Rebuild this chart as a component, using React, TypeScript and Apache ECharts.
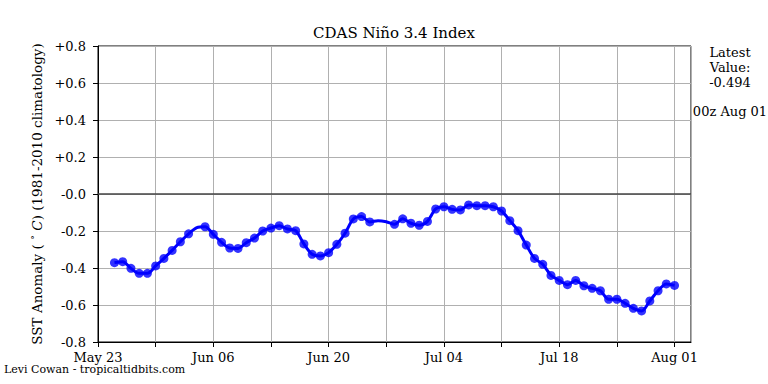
import React, { useEffect, useRef } from "react";
import * as echarts from "echarts";

// Days counted from May 23 (00z). First observation is May 25.
const startDay = 2;
const xTickLabels = ["May 23", "Jun 06", "Jun 20", "Jul 04", "Jul 18", "Aug 01"];
const yTicks = [-0.8, -0.6, -0.4, -0.2, 0, 0.2, 0.4, 0.6, 0.8];

// Daily Niño 3.4 SST anomaly (°C), May 25 .. Aug 01
const sstAnomaly = [
  -0.371, -0.366, -0.402, -0.429, -0.429, -0.389, -0.348, -0.305, -0.258, -0.215,
  -0.182, -0.177, -0.218, -0.261, -0.292, -0.294, -0.263, -0.238, -0.2, -0.184,
  -0.171, -0.189, -0.198, -0.27, -0.326, -0.335, -0.317, -0.272, -0.212, -0.135,
  -0.122, -0.151, -0.144, -0.15, -0.164, -0.134, -0.158, -0.169, -0.148, -0.081,
  -0.069, -0.083, -0.086, -0.059, -0.063, -0.063, -0.069, -0.092, -0.144, -0.198,
  -0.276, -0.348, -0.38, -0.44, -0.467, -0.49, -0.467, -0.496, -0.51, -0.523,
  -0.569, -0.569, -0.591, -0.618, -0.632, -0.578, -0.523, -0.486, -0.494,
];
// Days drawn only as line (no marker)
const missingIdx = [10, 32, 33];

const latestValue = "-0.494";
const latestTime = "00z Aug 01";

const FONT = "DejaVu Serif";

export default function App() {
  const ref = useRef<HTMLDivElement>(null);
  useEffect(() => {
    if (!ref.current) return;
    const chart = echarts.init(ref.current, null, { renderer: "svg" });
    const lineData = sstAnomaly.map((v, i) => [startDay + i, v]);
    const markerData = sstAnomaly
      .map((v, i) => (missingIdx.includes(i) ? null : [startDay + i, v]))
      .filter((d) => d !== null);
    chart.setOption({
      animation: false,
      backgroundColor: "#ffffff",
      title: {
        text: "CDAS Niño 3.4 Index",
        left: 389,
        top: 20,
        textAlign: "center",
        textStyle: { fontFamily: FONT, fontSize: 15, fontWeight: "normal", color: "#000" },
      },
      grid: {
        left: 98,
        right: 77,
        top: 46,
        bottom: 42,
        show: true,
        borderColor: "#000",
        borderWidth: 1,
        backgroundColor: "transparent",
      },
      xAxis: {
        type: "value",
        min: 0,
        max: 72,
        interval: 7,
        axisLine: { show: true, onZero: false, lineStyle: { color: "#000", width: 1 } },
        axisTick: { show: true, length: 5, lineStyle: { color: "#000" } },
        axisLabel: {
          fontFamily: FONT,
          fontSize: 13,
          lineHeight: 12,
          color: "#000",
          margin: 9,
          showMaxLabel: false,
          formatter: (v: number) => (v % 14 === 0 ? xTickLabels[v / 14] ?? "" : ""),
        },
        splitLine: { show: true, lineStyle: { color: "#b0b0b0", width: 1 } },
      },
      yAxis: {
        type: "value",
        min: yTicks[0],
        max: yTicks[yTicks.length - 1],
        interval: 0.2,
        name: "SST Anomaly ( {sup|°} {it|C}) (1981-2010 climatology)",
        nameLocation: "middle",
        nameGap: 54,
        nameTextStyle: {
          fontFamily: FONT,
          fontSize: 13.5,
          color: "#000",
          rich: {
            sup: { fontFamily: FONT, fontSize: 10, color: "#000", verticalAlign: "top", padding: [0, 0, 5, 0] },
            it: { fontFamily: FONT, fontSize: 13.5, fontStyle: "italic", color: "#000" },
          },
        },
        axisLine: { show: true, lineStyle: { color: "#000", width: 1 } },
        axisTick: { show: true, length: 5, lineStyle: { color: "#000" } },
        axisLabel: {
          fontFamily: FONT,
          fontSize: 13,
          color: "#000",
          margin: 12,
          formatter: (v: number) => {
            const r = Math.round(v * 10) / 10;
            if (r > 0) return "+" + r.toFixed(1);
            if (r === 0) return "-0.0";
            return r.toFixed(1);
          },
        },
        splitLine: { show: true, lineStyle: { color: "#b0b0b0", width: 1 } },
      },
      series: [
        {
          type: "line",
          data: lineData,
          smooth: 0.3,
          showSymbol: false,
          lineStyle: { color: "#0000ff", width: 3 },
          z: 3,
          markLine: {
            silent: true,
            symbol: "none",
            label: { show: false },
            lineStyle: { color: "#444444", width: 1.5, type: "solid" },
            data: [{ yAxis: 0 }],
            z: 2,
          },
        },
        {
          type: "scatter",
          data: markerData,
          symbol: "circle",
          symbolSize: 9,
          itemStyle: { color: "#0000ff" },
          z: 4,
        },
      ],
      graphic: [
        {
          type: "text",
          x: 730,
          y: 45,
          style: {
            text: "Latest\nValue:\n" + latestValue,
            fontFamily: FONT,
            fontSize: 13,
            lineHeight: 15,
            fill: "#000",
            align: "center",
          },
        },
        {
          type: "text",
          x: 730,
          y: 105,
          style: {
            text: latestTime,
            fontFamily: FONT,
            fontSize: 13,
            fill: "#000",
            align: "center",
          },
        },
        {
          type: "text",
          x: 4,
          y: 364,
          style: {
            text: "Levi Cowan - tropicaltidbits.com",
            fontFamily: FONT,
            fontSize: 11,
            lineHeight: 11,
            fill: "#000",
          },
        },
      ],
    });
    return () => chart.dispose();
  }, []);
  return (
    <div
      ref={ref}
      style={{ position: "fixed", left: 0, top: 0, width: 768, height: 384, background: "#fff" }}
    />
  );
}
